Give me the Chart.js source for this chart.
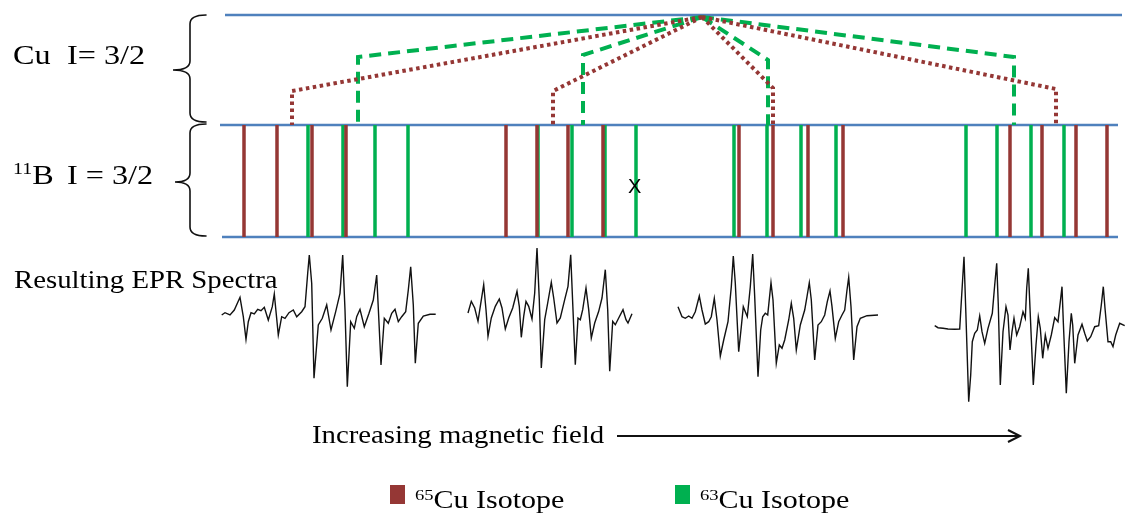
<!DOCTYPE html>
<html><head><meta charset="utf-8">
<script src="https://cdn.jsdelivr.net/npm/chart.js@4.4.0/dist/chart.umd.min.js"></script>
<style>
html,body{margin:0;padding:0;background:#fff;width:1127px;height:518px;overflow:hidden;}
#wrap{position:relative;width:1127px;height:518px;}
canvas{position:absolute;left:0;top:0;}
.t{position:absolute;font-family:"Liberation Serif","Times New Roman",serif;color:#000;line-height:1;white-space:nowrap;transform-origin:0 0;}
.sup{font-size:0.62em;position:relative;top:-0.55em;}
.sw{position:absolute;}
</style></head><body><div id="wrap"><canvas id="c" width="1127" height="518"></canvas></div>
<script>
// ---- data (field axis in a.u., level axis in a.u.) ----
const levelY = [15, 125, 237];            // Cu level, 11B top, 11B bottom
const levelStart = [225, 220, 222];
const levelEnd = [1122, 1118, 1118];
const cu65Lines = [244, 277, 312, 346, 506, 537, 568, 603, 739, 773, 808, 843, 1010, 1042, 1076, 1107];
const cu63Lines = [308, 343, 375, 408, 538, 572, 605, 636, 734, 767, 801, 836, 966, 997, 1031, 1064];
const apexX = 702, apexY = 17;
const cu65SplitX = [292, 553, 773, 1056];
const cu65SplitY = [91, 91, 88, 89];
const cu63SplitX = [358, 583, 768, 1014];
const cu63SplitY = [57, 55, 60, 57];
const spec1X = [221.7,225,230,234.3,240,243.3,246,248.3,251,254.3,257.7,261,264.3,268.3,272.3,274.3,278.3,281.7,285,289,293.3,296.7,301.7,305,307.7,309.3,311.7,314,318.3,322.3,326.7,331,335.7,340,342.7,345,347.3,350.7,354.3,356.7,360,364.3,369,373.3,376.7,378.3,381,384.3,388.3,391.7,395,398.3,401.7,405.7,408.3,410.7,413.3,415.3,418.3,423.3,430,435.7];
const spec1Y = [315,312.7,315,310,297.3,316.7,339.3,321.7,312.7,314,309.3,310.7,307.3,320,306.7,294,335,316.7,318.3,312.7,310,316.7,311.7,306.7,273.3,255,283.3,378.3,325,318.3,305,330,311.7,293.3,255,310,386.7,321.7,328.3,316.7,309.3,326.7,313.3,300,275,308.3,365,318.3,323.3,313.3,309.3,321.7,316.7,311.7,290,266.7,305,363.3,323.3,316,314.3,314.3];
const spec2X = [468,471.3,474.7,478,480.3,483.7,486,488,491.3,495.3,499.3,502,505.3,508.7,512.7,517,519.3,521.3,523.7,526,528.7,532,534.7,537,539.3,541.3,544.7,547.7,551.3,553.7,557,560.3,564.7,568,570.7,572.7,575.3,578,580.3,582.7,586,588.7,591.3,594.7,598.7,602,605.3,607.7,609.7,612.7,615.3,618.7,623,626,628,632];
const spec2Y = [313,301.3,308,321.3,306.3,284.7,309.7,336.3,318,306.3,299,308,329,318,308,291.3,306.3,337.3,316.3,301.3,306.3,319,293,248,299.7,368,319.7,303,282.3,298,323,318,299.7,286.3,254.7,303,364.7,318,319.7,309.7,288,309.7,338,323,311.3,298,269.7,309.7,371.3,321.3,324.7,318,309.7,319.7,323,313.7];
const spec3X = [678,682,685.3,688.7,692,695.3,699.3,702,705.3,708.7,711.3,714.3,717,720.3,723.7,728,731.3,733.3,735.3,738.7,741.3,743.3,745.3,747.3,750.3,752.7,754.7,758,760.7,762.7,765.3,767.7,771,773,776.3,779.3,782,784.7,788.7,791.3,793.7,796.3,800.3,804.7,807,809.3,811.3,814.7,818,821.3,824.7,827.3,830,832,835.3,838.7,842,844.7,847,848.7,851,853.7,857,860.3,867,878];
const spec3Y = [306.7,316.7,318.3,316,318.3,311.7,296,310,324,321.7,316.7,298.3,320,356,340,321.7,286.7,256,283.3,351.7,326.7,306.7,311.7,316.7,286.7,254,296.7,376.7,330,316.7,313.3,315,282.7,300,363.3,345,348.3,340,320,303.3,318.3,350,325,310,296.7,282.7,300,360,325,321.7,315,301.7,291,306.7,338.3,321.7,315,310,290,277.3,306.7,360,326.7,318.3,315.7,315];
const spec4X = [934.7,938,943,948,954.7,959.7,961.3,964,965.7,968.7,970.7,972.3,974.7,977.3,979.7,982,984.7,988,992.3,994.7,996.7,998.3,1000.3,1003,1006,1008,1010,1012,1014,1016.7,1019.7,1023,1025.3,1026.7,1028.3,1030,1033.3,1036,1038.3,1040.3,1042.7,1045.3,1048,1051.3,1054.7,1058,1060.7,1062,1063.3,1066.3,1069,1071.3,1072.7,1074.7,1078,1082,1084.7,1087.3,1090.7,1094.7,1098.7,1101.3,1103.3,1105,1108,1110.7,1113,1115.7,1119.7,1124.7];
const spec4Y = [325.7,327.7,328.3,329,329.3,329,301.7,256.7,308.3,401.7,375,341.7,333.3,330,316,331.7,343.3,328.3,313.3,285,263.3,305,385,331.7,306.7,315,350,331.7,318.3,335,326.7,311.7,318.3,288.3,268.3,308.3,385,345,316.7,328.3,358.3,335,348.3,335,317.7,321.7,298.3,286.7,321.7,393.3,341.7,313.3,325,363.3,335,324.3,333.3,341,336.7,326.7,325.7,305,286.7,308.3,341.7,341.7,346.7,335,323.3,325.7];
const arrowFrom = 617, arrowTo = 1020, arrowY = 436;

// ---- build datasets ----
function segs(list) { const out = []; list.forEach(s => { s.forEach(p => out.push(p)); out.push({x: s[s.length - 1].x, y: null}); }); return out; }
const levelData = segs(levelY.map((y, i) => [{x: levelStart[i], y}, {x: levelEnd[i], y}]));
const stick = xs => segs(xs.map(x => [{x, y: levelY[1]}, {x, y: levelY[2]}]));
const split = (xs, ys) => segs(xs.map((x, i) => [{x: apexX, y: apexY}, {x, y: ys[i]}, {x, y: levelY[1]}]));
const spec = (xs, ys) => xs.map((x, i) => ({x, y: ys[i]}));

const base = {showLine: true, pointRadius: 0, pointHoverRadius: 0, fill: false, spanGaps: false, tension: 0};
const datasets = [
  Object.assign({}, base, {label: 'levels', data: levelData, borderColor: '#4F81BD', borderWidth: 2.5, order: 9}),
  Object.assign({}, base, {label: '63Cu', data: stick(cu63Lines), borderColor: '#00B050', borderWidth: 3.5, order: 7}),
  Object.assign({}, base, {label: '65Cu', data: stick(cu65Lines), borderColor: '#953735', borderWidth: 3.5, order: 6}),
  Object.assign({}, base, {label: '63Cu split', data: split(cu63SplitX, cu63SplitY), borderColor: '#00B050', borderWidth: 4, borderDash: [12, 7], order: 5}),
  Object.assign({}, base, {label: '65Cu split', data: split(cu65SplitX, cu65SplitY), borderColor: '#953735', borderWidth: 4, borderDash: [3.5, 3.5], order: 4}),
  Object.assign({}, base, {label: 'spec1', data: spec(spec1X, spec1Y), borderColor: '#111', borderWidth: 1.4, order: 1}),
  Object.assign({}, base, {label: 'spec2', data: spec(spec2X, spec2Y), borderColor: '#111', borderWidth: 1.4, order: 1}),
  Object.assign({}, base, {label: 'spec3', data: spec(spec3X, spec3Y), borderColor: '#111', borderWidth: 1.4, order: 1}),
  Object.assign({}, base, {label: 'spec4', data: spec(spec4X, spec4Y), borderColor: '#111', borderWidth: 1.4, order: 1})
];

const decor = {
  id: 'decor',
  afterDatasetsDraw(chart) {
    const ctx = chart.ctx, xs = chart.scales.x, ys = chart.scales.y;
    const X = v => xs.getPixelForValue(v), Y = v => ys.getPixelForValue(v);
    ctx.save();
    ctx.strokeStyle = '#111'; ctx.lineWidth = 1.6; ctx.lineCap = 'round';
    function brace(yTop, yBot, yTip, xv, xTip, xHook) {
      const r = 9;
      ctx.beginPath();
      ctx.moveTo(X(xHook), Y(yTop));
      ctx.quadraticCurveTo(X(xv), Y(yTop), X(xv), Y(yTop + r));
      ctx.lineTo(X(xv), Y(yTip - r));
      ctx.quadraticCurveTo(X(xv), Y(yTip), X(xTip), Y(yTip));
      ctx.quadraticCurveTo(X(xv), Y(yTip), X(xv), Y(yTip + r));
      ctx.lineTo(X(xv), Y(yBot - r));
      ctx.quadraticCurveTo(X(xv), Y(yBot), X(xHook), Y(yBot));
      ctx.stroke();
    }
    brace(levelY[0], levelY[1] - 3, 70, 190, 173, 206);
    brace(levelY[1] - 1, levelY[2] - 1, 182, 190, 175, 206);
    // arrow
    ctx.lineWidth = 2; ctx.lineCap = 'butt';
    ctx.beginPath(); ctx.moveTo(X(arrowFrom), Y(arrowY)); ctx.lineTo(X(arrowTo), Y(arrowY)); ctx.stroke();
    ctx.beginPath(); ctx.moveTo(X(arrowTo - 12), Y(arrowY - 6)); ctx.lineTo(X(arrowTo), Y(arrowY)); ctx.lineTo(X(arrowTo - 12), Y(arrowY + 6)); ctx.stroke();
    ctx.restore();
  }
};

new Chart(document.getElementById('c'), {
  type: 'scatter',
  data: {datasets},
  options: {
    responsive: false, animation: false, devicePixelRatio: 1,
    layout: {padding: 0},
    plugins: {legend: {display: false}, tooltip: {enabled: false}},
    scales: {
      x: {type: 'linear', min: 0, max: 1127, display: false},
      y: {type: 'linear', min: 0, max: 518, reverse: true, display: false}
    }
  },
  plugins: [decor]
});

// ---- text labels (real text) ----
const wrap = document.getElementById('wrap');
function label(html, x, baseline, size, sx, opts) {
  const d = document.createElement('div');
  d.className = 't';
  d.innerHTML = html;
  d.style.fontSize = size + 'px';
  d.style.left = x + 'px';
  d.style.top = (baseline - 0.8375 * size) + 'px';
  d.style.transform = 'scaleX(' + sx + ')';
  if (opts && opts.font) d.style.fontFamily = opts.font;
  wrap.appendChild(d);
  return d;
}
label('Cu', 13, 64, 28, 1.15);
label('I= 3/2', 67, 64, 28, 1.15);
label('<span class="sup">11</span>B', 13, 184, 28, 1.15);
label('I = 3/2', 67, 184, 28, 1.15);
label('Resulting EPR Spectra', 14, 288, 25, 1.15);
label('Increasing magnetic field', 312, 443, 25, 1.15);
label('X', 628, 193, 20, 1, {font: '"Liberation Sans", Arial, sans-serif'});
// legend
const legend = [{name: '65', color: '#953735', x: 390}, {name: '63', color: '#00B050', x: 675}];
legend.forEach(l => {
  const s = document.createElement('div');
  s.className = 'sw';
  s.style.cssText = 'left:' + l.x + 'px;top:485px;width:15px;height:19px;background:' + l.color + ';';
  wrap.appendChild(s);
  label('<span class="sup">' + l.name + '</span>Cu Isotope', l.x + 25, 508, 25, 1.2);
});
</script></body></html>
